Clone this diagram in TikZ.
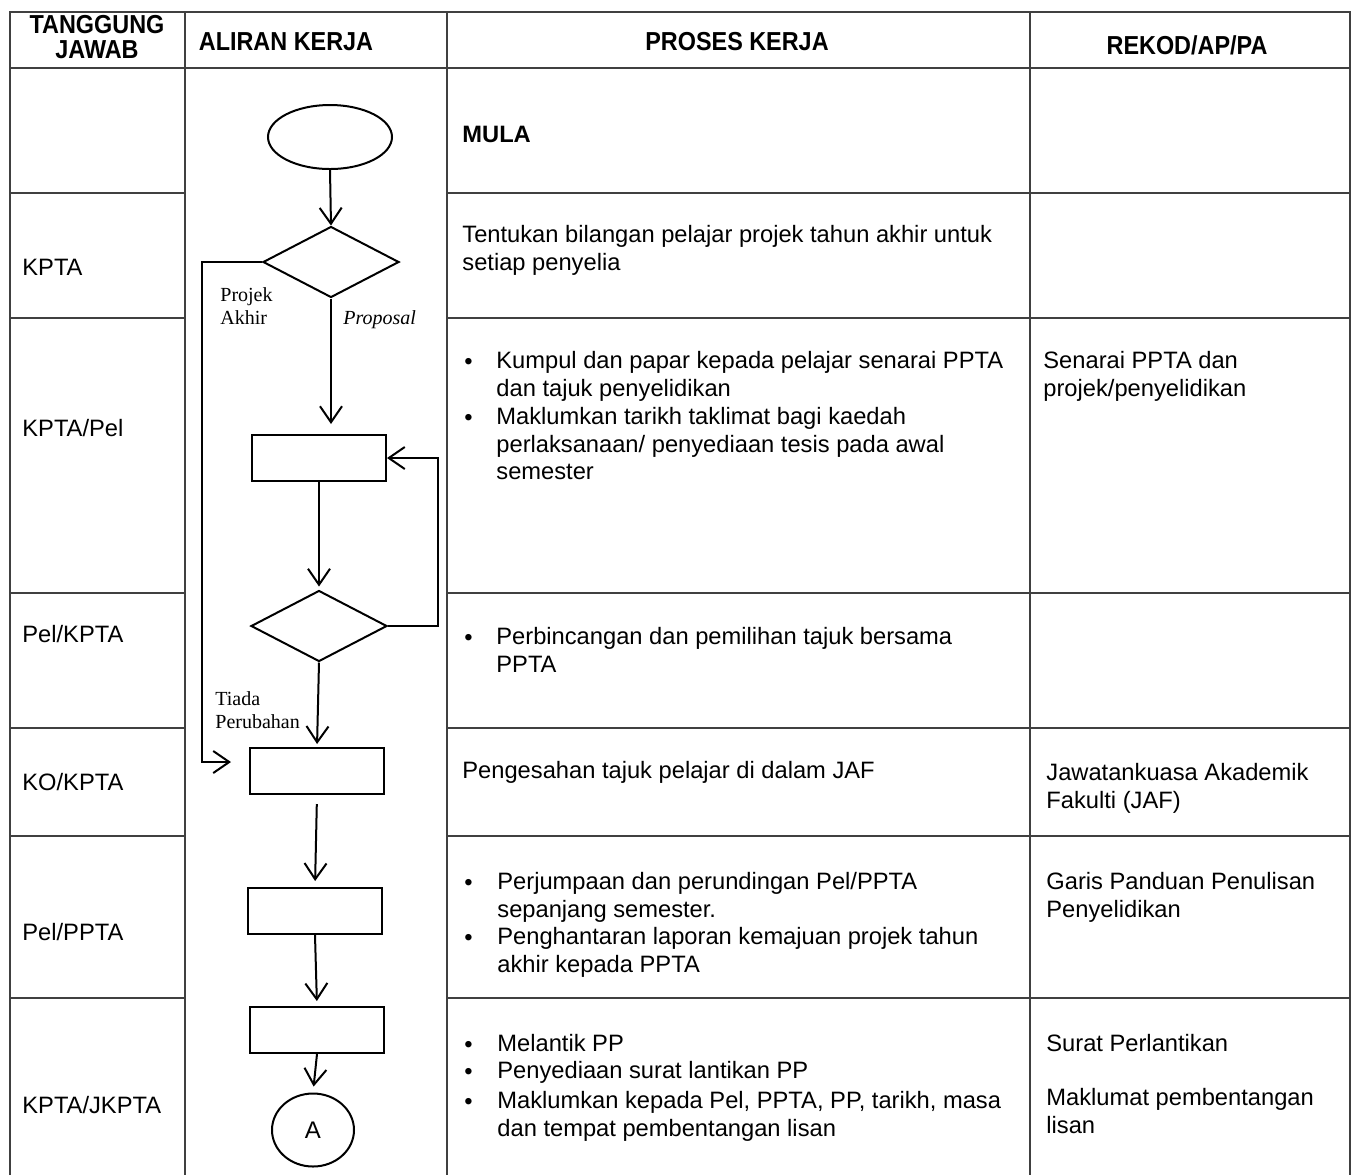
\documentclass[tikz,border=0pt]{standalone}
\usepackage{fontspec}
\setmainfont{Liberation Sans}
\newfontfamily\timesfont{Liberation Serif}
\newfontfamily\hdfont{Liberation Sans}[FakeStretch=0.9]
\usetikzlibrary{shapes.geometric,arrows.meta}
\begin{document}
\begin{tikzpicture}[x=0.5pt,y=-0.5pt,
  grid/.style={line width=0.9pt, draw=black!75},
  flow/.style={line width=1pt},
  arr/.style={flow,-{Straight Barb[length=8pt,width=11pt]}},
  hd/.style={font=\hdfont\bfseries\fontsize{13}{12.5}\selectfont, align=center, inner sep=0},
  txt/.style={font=\fontsize{11.85}{13.75}\selectfont, align=left, anchor=north west, inner sep=0},
  blt/.style={font=\fontsize{11.85}{13.75}\selectfont, anchor=base west, inner sep=0},
  lbl/.style={font=\timesfont\fontsize{10}{11.5}\selectfont, align=left, anchor=north west, inner sep=0},
  box/.style={draw, flow, rectangle, minimum width=67pt, minimum height=23pt, inner sep=0},
  dec/.style={draw, flow, diamond, minimum width=68pt, minimum height=35.5pt, inner sep=0}]
\useasboundingbox (0,0) rectangle (1355,1175);

\draw[grid] (10,1175) -- (10,12) -- (1350,12) -- (1350,1175);
\draw[grid] (185,12) -- (185,1175);
\draw[grid] (447,12) -- (447,1175);
\draw[grid] (1030,12) -- (1030,1175);
\draw[grid] (10,68) -- (1350,68);
\foreach \y in {193,318,593,728,836,998}{
  \draw[grid] (10,\y) -- (185,\y);
  \draw[grid] (447,\y) -- (1350,\y);
}

\node[hd] (hjawab) at (97,37.5) {TANGGUNG\\JAWAB};
\node[hd] (haliran) at (286,42) {ALIRAN KERJA};
\node[hd] (hproses) at (737,42) {PROSES KERJA};
\node[hd] (hrekod) at (1187,45) {REKOD/AP/PA};

\node[txt] (t1) at (22,259) {KPTA};
\node[txt] (t2) at (22,419) {KPTA/Pel};
\node[txt] (t3) at (22,625) {Pel/KPTA};
\node[txt] (t4) at (22,773) {KO/KPTA};
\node[txt] (t5) at (22,923) {Pel/PPTA};
\node[txt] (t6) at (22,1096) {KPTA/JKPTA};

\node[draw, flow, ellipse, minimum width=62pt, minimum height=32pt] (mula) at (330,137){};
\node[dec] (pilih) at (331,262){};
\node[box] (senarai) at (319,458){};
\node[dec] (tajuk) at (319,626){};
\node[box] (sah) at (317,771){};
\node[box] (jumpa) at (315,911){};
\node[box] (lantik) at (317,1030){};
\node[draw, flow, ellipse, minimum width=41pt, minimum height=36.5pt, font=\fontsize{12}{14}\selectfont] (conA) at (313,1130){A};
\coordinate (kiri) at (231,762);

\draw[arr] (mula.south) -- (pilih.north);
\draw[arr, shorten >=5pt] (pilih.south) -- (pilih.south |- senarai.north);
\draw[arr, shorten >=1.5pt] (senarai.south) -- (tajuk.north);
\draw[arr, shorten >=1.5pt] (tajuk.south) -- (sah.north);
\draw[arr] (tajuk.east) -- ++(50,0) |- (senarai.east);
\draw[arr] (pilih.west) -- ++(-60,0) |- (kiri);
\draw[arr, shorten <=4.5pt, shorten >=3pt] (sah.south) -- (jumpa.north);
\draw[arr, shorten >=2.5pt] (jumpa.south) -- (lantik.north);
\draw[arr, shorten >=3pt] (lantik.south) -- (conA.north);

\node[lbl] (lprojek) at (220,287) {Projek\\Akhir};
\node[lbl, font=\timesfont\itshape\fontsize{10}{11.5}\selectfont] (lproposal) at (343,310) {Proposal};
\node[lbl] (ltiada) at (215,691) {Tiada\\Perubahan};

\node[txt, font=\bfseries\fontsize{11.85}{13.75}\selectfont] (p0) at (462,126) {MULA};
\node[txt] (p1) at (462,225) {Tentukan bilangan pelajar projek tahun akhir untuk\\setiap penyelia};
\node[txt] (p2) at (496,351) {Kumpul dan papar kepada pelajar senarai PPTA\\dan tajuk penyelidikan};
\node[txt] (p3) at (496,407) {Maklumkan tarikh taklimat bagi kaedah\\perlaksanaan/ penyediaan tesis pada awal\\semester};
\node[txt] (p4) at (496,627) {Perbincangan dan pemilihan tajuk bersama\\PPTA};
\node[txt] (p5) at (462,761) {Pengesahan tajuk pelajar di dalam JAF};
\node[txt] (p6) at (497,872) {Perjumpaan dan perundingan Pel/PPTA\\sepanjang semester.};
\node[txt] (p7) at (497,927) {Penghantaran laporan kemajuan projek tahun\\akhir kepada PPTA};
\node[txt] (p8) at (497,1034) {Melantik PP};
\node[txt] (p9) at (497,1061) {Penyediaan surat lantikan PP};
\node[txt] (p10) at (497,1091) {Maklumkan kepada Pel, PPTA, PP, tarikh, masa\\dan tempat pembentangan lisan};
\foreach \y [count=\i] in {369,425,645,890,945,1052,1079,1109}
  \node[blt] (b\i) at (464,\y) {\textbullet};

\node[txt] (r1) at (1043,351) {Senarai PPTA dan\\projek/penyelidikan};
\node[txt] (r2) at (1046,763) {Jawatankuasa Akademik\\Fakulti (JAF)};
\node[txt] (r3) at (1046,872) {Garis Panduan Penulisan\\Penyelidikan};
\node[txt] (r4) at (1046,1034) {Surat Perlantikan};
\node[txt] (r5) at (1046,1088) {Maklumat pembentangan\\lisan};
\end{tikzpicture}
\end{document}
